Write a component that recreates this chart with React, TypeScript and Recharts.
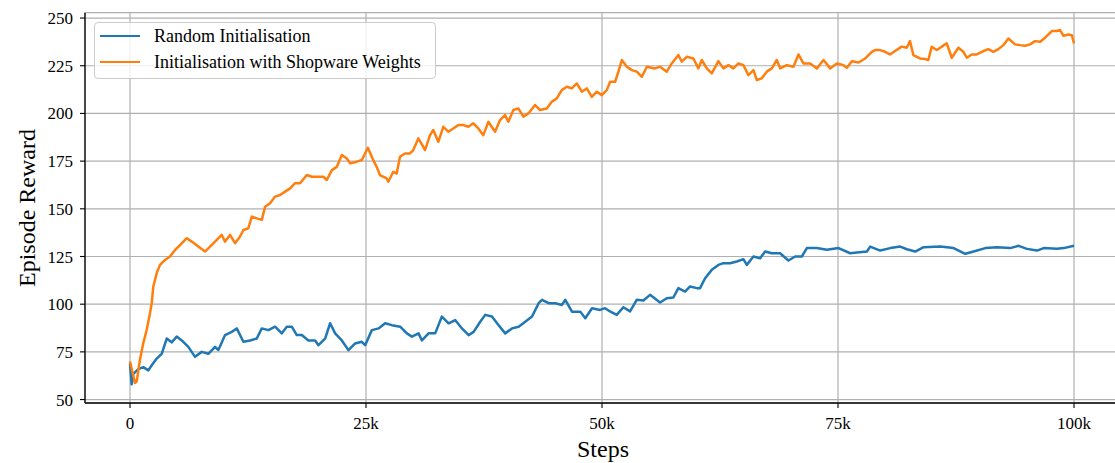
import { LineChart, Line, XAxis, YAxis, CartesianGrid, Legend } from "recharts";

const SERIF = '"Liberation Serif", "Times New Roman", Times, serif';

const seriesNames = ["Random Initialisation", "Initialisation with Shopware Weights"];
const seriesColors = ["#1f77b4", "#ff7f0e"];

const xTicks = [0, 25000, 50000, 75000, 100000];
const yTicks = [50, 75, 100, 125, 150, 175, 200, 225, 250];

// training steps in thousands, smoothed episode reward
const randomSteps = [
  0, 0.18, 0.35, 0.88, 1.41, 1.94, 2.3, 2.83, 3.36, 3.89, 4.42, 4.95, 5.48, 6.18, 6.89, 7.6, 8.3, 9.01, 9.36,
  10.07, 10.78, 11.31, 12.01, 12.72, 13.43, 13.96, 14.66, 15.37, 16.08, 16.61, 17.14, 17.67, 18.2, 18.9, 19.61,
  19.96, 20.67, 21.2, 21.73, 22.44, 23.14, 23.85, 24.56, 24.91, 25.62, 26.33, 27.03, 27.74, 28.62, 29.33, 29.86,
  30.57, 30.92, 31.63, 32.33, 33.04, 33.75, 34.45, 35.16, 35.87, 36.4, 37.1, 37.63, 38.34, 39.05, 39.75, 40.46,
  41.17, 41.87, 42.58, 43.29, 43.64, 44.35, 45.05, 45.76, 46.11, 46.82, 47.7, 48.23, 48.94, 49.79, 50.32, 50.85,
  51.56, 52.26, 52.97, 53.68, 54.38, 55.09, 56.15, 56.86, 57.56, 58.09, 58.8, 59.33, 60.04, 60.39, 60.92, 61.63,
  62.33, 62.86, 63.57, 64.28, 64.98, 65.34, 66.04, 66.75, 67.28, 67.99, 68.87, 69.75, 70.46, 71.17, 71.7, 72.76,
  73.82, 75.06, 76.29, 77.0, 78.06, 78.41, 79.47, 80.53, 81.59, 82.3, 83.18, 84.07, 85.83, 87.25, 88.48, 89.37,
  90.6, 91.84, 93.25, 94.14, 95.02, 96.08, 96.79, 98.2, 98.91, 100,
];
const randomReward = [
  68.8, 58, 63.5, 66, 67, 65.3, 68, 71.5, 74, 82, 80, 83, 81, 77.6, 72.4, 75, 74, 77.6, 76,
  83.8, 85.5, 87.3, 80.3, 81, 82, 87.3, 86.4, 88.2, 84.7, 88.2, 88.2, 83.8, 83.8, 81, 81,
  78.5, 82, 90, 84.7, 81, 75.9, 79.4, 80.3, 78.5, 86.4, 87.3, 90, 89, 88.2, 84.7, 83,
  84.7, 81, 84.7, 84.7, 93.5, 90, 91.7, 87.3, 83.8, 85.5, 90.8, 94.4, 93.5, 89, 84.7, 87.3,
  88.2, 90.8, 93.5, 100.5, 102.3, 100.5, 100.5, 99.6, 102.3, 96.1, 96.1, 92.6, 97.9, 97, 97.9, 96.2,
  94.4, 98.4, 96.2, 102.3, 101.9, 104.9, 100.9, 103.1, 103.5, 108.4, 106.6, 109.3, 108.4, 108.4, 113.6, 118,
  120.6, 121.5, 121.5, 122.4, 123.6, 120.6, 125, 124.1, 127.6, 126.7, 126.7, 122.9, 125, 125, 129.4, 129.4,
  128.5, 129.4, 126.7, 127.1, 127.6, 130.2, 128.1, 129.4, 130.2, 128.8, 127.6, 129.9, 130.2, 129.4, 126.4, 127.6,
  129.4, 129.9, 129.4, 130.6, 129, 128.1, 129.4, 129, 129.4, 130.6,
];

const shopwareSteps = [
  0, 0.53, 0.71, 1.06, 1.41, 1.77, 2.12, 2.3, 2.47, 2.83,
  3.18, 3.71, 4.24, 4.77, 5.3, 6.01, 6.54, 7.24, 7.95, 8.48,
  9.19, 9.72, 10.07, 10.6, 11.13, 11.66, 12.01, 12.54, 12.9, 13.43,
  13.96, 14.31, 14.84, 15.37, 15.9, 16.43, 16.96, 17.49, 18.02, 18.73,
  19.26, 19.79, 20.49, 20.85, 21.38, 21.91, 22.44, 22.97, 23.32, 24.03,
  24.56, 25.2, 25.77, 26.13, 26.48, 27.19, 27.36, 27.89, 28.25, 28.6,
  29.13, 29.66, 30.01, 30.54, 31.07, 31.25, 31.78, 32.13, 32.66, 33.19,
  33.72, 34.25, 34.78, 35.31, 35.84, 36.37, 36.9, 37.43, 37.96, 38.67,
  39.2, 39.73, 40.08, 40.61, 41.14, 41.67, 42.2, 42.91, 43.44, 44.15,
  44.68, 45.21, 45.74, 46.27, 46.8, 47.33, 47.86, 48.39, 48.92, 49.45,
  49.98, 50.51, 50.86, 51.39, 51.74, 52.1, 52.63, 53.16, 53.69, 54.22,
  54.75, 55.62, 56.15, 56.86, 57.39, 58.09, 58.45, 58.98, 59.68, 60.21,
  60.57, 61.1, 61.63, 62.33, 62.86, 63.39, 63.92, 64.45, 64.98, 65.51,
  66.04, 66.4, 66.93, 67.46, 67.99, 68.52, 68.87, 69.58, 70.28, 70.81,
  71.34, 72.05, 72.76, 73.46, 74.17, 74.88, 75.59, 75.94, 76.47, 77.18,
  77.88, 78.59, 78.92, 79.45, 79.98, 80.51, 81.04, 81.75, 82.28, 82.63,
  82.98, 83.69, 84.22, 84.57, 84.93, 85.46, 85.99, 86.52, 87.05, 87.75,
  88.28, 88.64, 89.17, 89.7, 90.4, 90.93, 91.46, 91.99, 92.52, 93.05,
  93.76, 94.29, 94.82, 95.35, 95.88, 96.41, 96.94, 97.65, 98.18, 98.53,
  98.89, 99.42, 99.77, 100,
];
const shopwareReward = [
  70, 58.7, 59.5, 71, 79.6, 86.6, 95.3, 100.5, 109.3, 116.3,
  120.6, 123.2, 125, 128.4, 131, 134.6, 132.8, 130.2, 127.6, 130.2,
  133.7, 136.3, 132.8, 136.3, 132, 135.5, 138.9, 139.8, 145.9, 145,
  144.2, 151.1, 152.9, 156.4, 157.2, 159, 160.7, 163.4, 163.4, 167.7,
  166.8, 166.8, 166.8, 165.1, 170.3, 172, 178.2, 176.4, 173.8, 174.7,
  175.6, 182, 175.5, 172, 167.7, 165.9, 164.2, 169.4, 168.5, 177.3,
  179, 179, 180.8, 186.9, 182.5, 180.8, 188.6, 191.3, 185.1, 193,
  190.4, 192.1, 193.9, 193.9, 193, 194.8, 192.1, 188.6, 195.6, 190.4,
  196.5, 199.1, 195.6, 201.8, 202.6, 198.3, 200, 204.4, 201.8, 202.6,
  206.1, 207.9, 212.2, 214, 213.1, 215.7, 211.4, 213.1, 208.7, 211.4,
  209.6, 212.2, 216.6, 216.6, 221.9, 228, 224.5, 222.7, 221.9, 219.2,
  224.5, 223.6, 224.5, 221.9, 226.2, 230.6, 227.1, 229.7, 228.8, 223.6,
  228, 223.6, 221, 227.4, 223.6, 225.3, 223.6, 226.2, 225.3, 220.1,
  222.7, 217.5, 218.4, 221.9, 223.6, 228, 223.6, 225.3, 224.5, 230.9,
  226.2, 226.2, 223.6, 228, 223.6, 226.2, 225.3, 224, 227.4, 226.7,
  228.8, 232.3, 233.2, 233.2, 232.3, 230.9, 232.7, 235, 234.4, 237.9,
  230.6, 228.8, 228.5, 228, 235, 233.2, 235, 236.7, 229.2, 234.4,
  232.3, 229.2, 230.9, 230.9, 232.7, 233.7, 232.3, 233.7, 235.8, 239.3,
  236.2, 235.8, 235.5, 236.2, 237.9, 237.6, 239.7, 243.2, 243.2, 243.7,
  240.7, 241.4, 241, 236.7,
];

const toPoints = (steps: number[], reward: number[]) =>
  steps.map((s, i) => ({ step: s * 1000, reward: reward[i] }));

const randomData = toPoints(randomSteps, randomReward);
const shopwareData = toPoints(shopwareSteps, shopwareReward);

const X_DOMAIN: [number, number] = [-4767, 105000];
const Y_DOMAIN: [number, number] = [48.2, 252.8];

const fmtK = (v: number) => (v === 0 ? "0" : `${v / 1000}k`);

const tickStyle = { fontSize: 17, fill: "#000", fontFamily: SERIF };

function LegendBox(props: any) {
  const payload: any[] = props.payload || [];
  const ordered = seriesNames
    .map((n) => payload.find((p) => p.value === n))
    .filter(Boolean);
  return (
    <div
      style={{
        width: 342,
        height: 57,
        boxSizing: "border-box",
        border: "1px solid #cccccc",
        borderRadius: 4,
        background: "rgba(255,255,255,0.8)",
        fontFamily: SERIF,
        fontSize: 18,
        color: "#000",
      }}
    >
      {ordered.map((entry: any) => (
        <div key={entry.value} style={{ display: "flex", alignItems: "center", height: 26, lineHeight: "26px" }}>
          <span
            style={{
              display: "inline-block",
              width: 40,
              height: 2.5,
              marginLeft: 5,
              marginRight: 14,
              background: entry.color,
            }}
          />
          <span style={{ whiteSpace: "nowrap" }}>{entry.value}</span>
        </div>
      ))}
    </div>
  );
}

const stepsLabel = () => (
  <text x={603} y={457} textAnchor="middle" fontSize={24} fontFamily={SERIF} fill="#000">
    Steps
  </text>
);

const rewardLabel = () => (
  <text
    x={35}
    y={208}
    transform="rotate(-90, 35, 208)"
    textAnchor="middle"
    fontSize={24}
    fontFamily={SERIF}
    fill="#000"
  >
    Episode Reward
  </text>
);

export default function App() {
  return (
    <div
      style={{
        position: "absolute",
        left: 0,
        top: 0,
        width: 1115,
        height: 463,
        overflow: "hidden",
        background: "#fff",
      }}
    >
      <LineChart width={1125} height={463} margin={{ top: 12.7, right: 3.8, bottom: 0, left: 0 }}>
        <CartesianGrid stroke="#b0b0b0" strokeWidth={1.2} />
        <XAxis
          dataKey="step"
          type="number"
          domain={X_DOMAIN}
          allowDataOverflow
          ticks={xTicks}
          tickFormatter={fmtK}
          height={60}
          tickSize={5}
          tickMargin={9.4}
          tick={tickStyle}
          axisLine={{ stroke: "#000", strokeWidth: 1.3 }}
          tickLine={{ stroke: "#000", strokeWidth: 1.1 }}
          label={stepsLabel}
        />
        <XAxis
          xAxisId="top"
          orientation="top"
          dataKey="step"
          type="number"
          domain={X_DOMAIN}
          allowDataOverflow
          height={0}
          tick={false}
          tickLine={false}
          axisLine={{ stroke: "#000", strokeWidth: 1.3 }}
        />
        <YAxis
          type="number"
          domain={Y_DOMAIN}
          allowDataOverflow
          ticks={yTicks}
          width={85}
          tickSize={5}
          tickMargin={7}
          tick={tickStyle}
          axisLine={{ stroke: "#000", strokeWidth: 1.3 }}
          tickLine={{ stroke: "#000", strokeWidth: 1.1 }}
          label={rewardLabel}
        />
        <Legend
          layout="vertical"
          align="center"
          verticalAlign="middle"
          wrapperStyle={{ left: 94, top: 22, width: 342, height: 57 }}
          content={LegendBox}
        />
        <Line
          data={randomData}
          dataKey="reward"
          name={seriesNames[0]}
          stroke={seriesColors[0]}
          strokeWidth={2.5}
          strokeLinejoin="round"
          dot={false}
          activeDot={false}
          isAnimationActive={false}
        />
        <Line
          data={shopwareData}
          dataKey="reward"
          name={seriesNames[1]}
          stroke={seriesColors[1]}
          strokeWidth={2.5}
          strokeLinejoin="round"
          dot={false}
          activeDot={false}
          isAnimationActive={false}
        />
      </LineChart>
    </div>
  );
}
